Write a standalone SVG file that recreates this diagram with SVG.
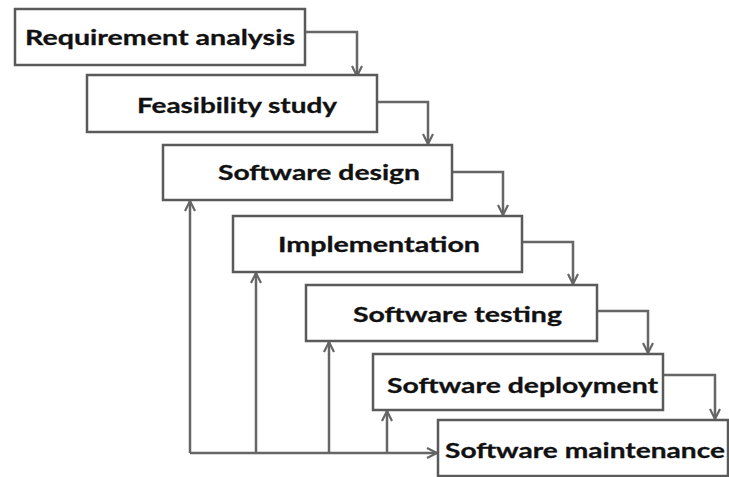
<svg xmlns="http://www.w3.org/2000/svg" width="729" height="477" viewBox="0 0 729 477">
<style>
.box{fill:#fff;stroke:#5a5a5a;stroke-width:2.5}
.lbl{font-family:Lato,"Liberation Sans",sans-serif;font-weight:bold;font-size:21px;fill:#111;stroke:#111;stroke-width:0.3}
.ln{fill:none;stroke:#666;stroke-width:2.5}
</style>
<defs>
<marker id="ah" viewBox="0 0 12 12" refX="11" refY="6" markerWidth="12" markerHeight="12" markerUnits="userSpaceOnUse" orient="auto">
<path d="M1,1 L11,6 L1,11" fill="none" stroke="#666" stroke-width="2.2"/>
</marker>
</defs>
<rect width="729" height="477" fill="#fff"/>
<g id="connectors">
<path class="ln" d="M305,32 H357 V76" marker-end="url(#ah)"/>
<path class="ln" d="M377,102 H428 V144" marker-end="url(#ah)"/>
<path class="ln" d="M452,172 H503 V215" marker-end="url(#ah)"/>
<path class="ln" d="M522,242 H573 V284" marker-end="url(#ah)"/>
<path class="ln" d="M597,311 H648 V353" marker-end="url(#ah)"/>
<path class="ln" d="M663,375 H715 V419" marker-end="url(#ah)"/>
<path class="ln" d="M190,453 H437" marker-end="url(#ah)"/>
<path class="ln" d="M190,453 V201" marker-end="url(#ah)"/>
<path class="ln" d="M256,453 V273" marker-end="url(#ah)"/>
<path class="ln" d="M329,453 V342" marker-end="url(#ah)"/>
<path class="ln" d="M387,453 V411" marker-end="url(#ah)"/>
</g>
<g id="n1"><rect class="box" x="15" y="9" width="290" height="56"/><text class="lbl" x="25" y="45" textLength="270" lengthAdjust="spacingAndGlyphs">Requirement analysis</text></g>
<g id="n2"><rect class="box" x="87" y="75" width="290" height="57"/><text class="lbl" x="137" y="113" textLength="200" lengthAdjust="spacingAndGlyphs">Feasibility study</text></g>
<g id="n3"><rect class="box" x="163" y="145" width="289" height="55"/><text class="lbl" x="218" y="180" textLength="202" lengthAdjust="spacingAndGlyphs">Software design</text></g>
<g id="n4"><rect class="box" x="233" y="216" width="289" height="56"/><text class="lbl" x="278" y="252" textLength="202" lengthAdjust="spacingAndGlyphs">Implementation</text></g>
<g id="n5"><rect class="box" x="306" y="285" width="291" height="56"/><text class="lbl" x="353" y="322" textLength="209" lengthAdjust="spacingAndGlyphs">Software testing</text></g>
<g id="n6"><rect class="box" x="373" y="354" width="290" height="56"/><text class="lbl" x="387" y="393" textLength="271" lengthAdjust="spacingAndGlyphs">Software deployment</text></g>
<g id="n7"><rect class="box" x="438" y="420" width="290" height="56"/><text class="lbl" x="445" y="458" textLength="280" lengthAdjust="spacingAndGlyphs">Software maintenance</text></g>
</svg>
